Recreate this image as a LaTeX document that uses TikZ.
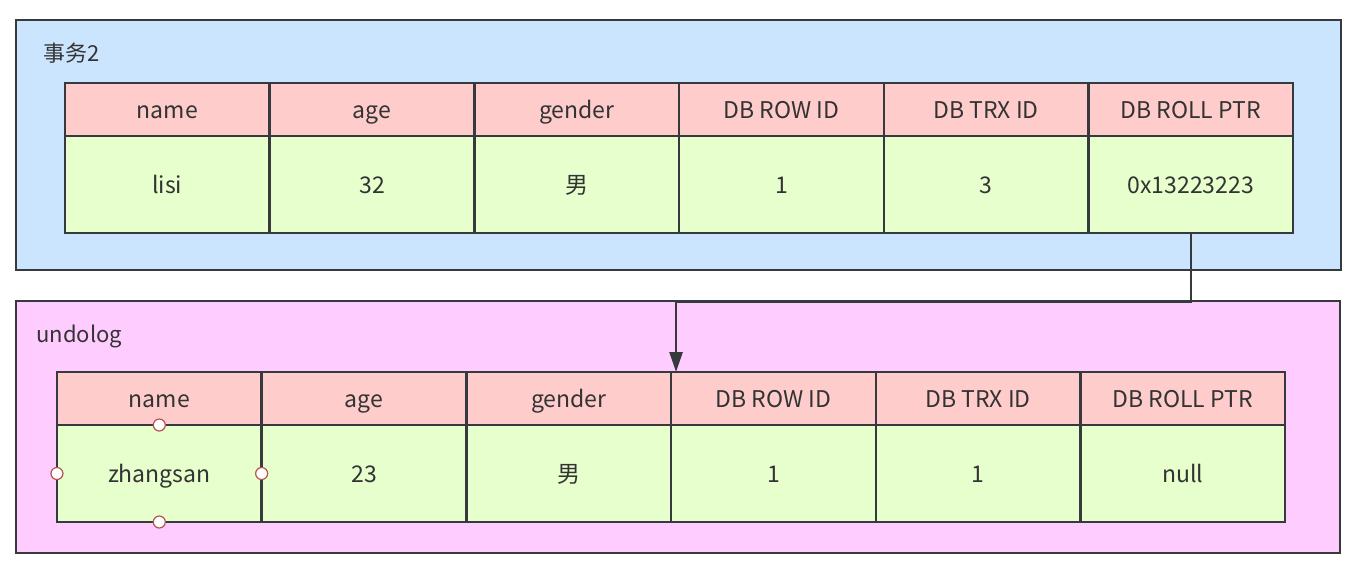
\documentclass[tikz,border=0pt]{standalone}
\usepackage{fontspec}
\setmainfont{Noto Sans CJK SC}
\usepackage{xcolor}
\usetikzlibrary{arrows.meta, positioning, calc}
\definecolor{trxblue}{HTML}{CCE5FF}
\definecolor{undopink}{HTML}{FFCCFF}
\definecolor{headred}{HTML}{FFCCCC}
\definecolor{rowgreen}{HTML}{E6FFCC}
\definecolor{edge}{HTML}{36393D}
\definecolor{txt}{HTML}{333333}
\definecolor{selred}{HTML}{B85450}
\tikzstyle{box} = [rectangle, draw=edge, line width=2.5pt, inner sep=0, outer sep=0]
\tikzstyle{head} = [rectangle, minimum width=204.7pt, minimum height=53pt, draw=edge, line width=2.5pt, fill=headred, text=txt, inner sep=0, outer sep=0, text height=20pt, text depth=2pt, font=\fontsize{23}{27}\selectfont]
\tikzstyle{cell} = [rectangle, minimum width=204.7pt, minimum height=97pt, draw=edge, line width=2.5pt, fill=rowgreen, text=txt, inner sep=0, outer sep=0, text height=20pt, text depth=2pt, font=\fontsize{23}{27}\selectfont]
\tikzstyle{handle} = [circle, minimum size=12pt, inner sep=0, draw=selred, line width=1.2pt, fill=white]
\tikzstyle{arrow} = [line width=2.5pt, draw=edge, -{Triangle[length=20pt,width=13pt]}]

\begin{document}
\begin{tikzpicture}[x=1pt, y=-1pt, node distance=0pt, font=\fontsize{22}{26}\selectfont]
	\useasboundingbox (0,0) rectangle (1354,574);
	% wrappers
	\node (trx-box) [box, fill=trxblue, minimum width=1325pt, minimum height=250pt] at (678.5,145) {};
	\node (trx-text) [anchor=west, text=txt] at (40,53) {事务2};
	
	\node (undo-box) [box, fill=undopink, minimum width=1324pt, minimum height=252pt] at (678,427) {};
	\node (undo-text) [anchor=west, text=txt] at (33,336) {undolog};
	
	% transaction row
	\node (t-name) [head] at (167.3,109.5) {name};
	\node (t-age) [head, right=of t-name] {age};
	\node (t-gender) [head, right=of t-age] {gender};
	\node (t-rowid) [head, right=of t-gender] {DB ROW ID};
	\node (t-trxid) [head, right=of t-rowid] {DB TRX ID};
	\node (t-ptr) [head, right=of t-trxid] {DB ROLL PTR};
	
	\node (t-name-v) [cell, below=of t-name] {lisi};
	\node (t-age-v) [cell, below=of t-age] {32};
	\node (t-gender-v) [cell, below=of t-gender] {男};
	\node (t-rowid-v) [cell, below=of t-rowid] {1};
	\node (t-trxid-v) [cell, below=of t-trxid] {3};
	\node (t-ptr-v) [cell, below=of t-ptr] {0x13223223};
	
	% undo log row
	\node (u-name) [head] at (159.3,398.5) {name};
	\node (u-age) [head, right=of u-name] {age};
	\node (u-gender) [head, right=of u-age] {gender};
	\node (u-rowid) [head, right=of u-gender] {DB ROW ID};
	\node (u-trxid) [head, right=of u-rowid] {DB TRX ID};
	\node (u-ptr) [head, right=of u-trxid] {DB ROLL PTR};
	
	\node (u-name-v) [cell, below=of u-name] {zhangsan};
	\node (u-age-v) [cell, below=of u-age] {23};
	\node (u-gender-v) [cell, below=of u-gender] {男};
	\node (u-rowid-v) [cell, below=of u-rowid] {1};
	\node (u-trxid-v) [cell, below=of u-trxid] {1};
	\node (u-ptr-v) [cell, below=of u-ptr] {null};
	
	% selection handles
	\node (sel-n) [handle] at (u-name-v.north) {};
	\node (sel-s) [handle] at (u-name-v.south) {};
	\node (sel-w) [handle] at (u-name-v.west) {};
	\node (sel-e) [handle] at (u-name-v.east) {};
	
	% arrows
	\draw [arrow] (t-ptr-v.south) |- ([xshift=5pt,yshift=-1pt] u-rowid.north west |- undo-box.north) -- ([xshift=5pt] u-rowid.north west);
\end{tikzpicture}
\end{document}
